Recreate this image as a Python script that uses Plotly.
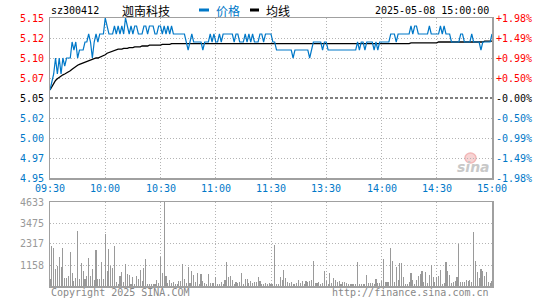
import plotly.graph_objects as go

# ---------------- data ----------------
prev_close = 5.05
price_ticks = [5.15, 5.125, 5.10, 5.075, 5.05, 5.025, 5.00, 4.975, 4.95]
price_labels = ["5.15", "5.12", "5.10", "5.07", "5.05", "5.02", "5.00", "4.97", "4.95"]
pct_labels = ["+1.98%", "+1.49%", "+0.99%", "+0.50%", "-0.00%", "-0.50%", "-0.99%", "-1.49%", "-1.98%"]
vol_ticks = [4633, 3475, 2317, 1158]
vol_labels = ["4633", "3475", "2317", "1158"]
time_pos = [0, 30, 60, 90, 120, 150, 180, 210, 240]
time_labels = ["09:30", "10:00", "10:30", "11:00", "11:30", "13:30", "14:00", "14:30", "15:00"]

price = [
    5.06, 5.07, 5.08, 5.10, 5.08, 5.10, 5.08, 5.10, 5.09, 5.10,
    5.10, 5.10, 5.12, 5.11, 5.12, 5.10, 5.11, 5.11, 5.11, 5.12,
    5.12, 5.13, 5.12, 5.10, 5.12, 5.13, 5.12, 5.13, 5.13, 5.13,
    5.15, 5.14, 5.13, 5.13, 5.13, 5.14, 5.13, 5.14, 5.13, 5.14,
    5.13, 5.15, 5.14, 5.13, 5.14, 5.13, 5.14, 5.14, 5.13, 5.13,
    5.13, 5.14, 5.14, 5.13, 5.14, 5.14, 5.14, 5.13, 5.13, 5.14,
    5.14, 5.13, 5.14, 5.13, 5.14, 5.13, 5.14, 5.13, 5.13, 5.13,
    5.13, 5.13, 5.13, 5.13, 5.12, 5.11, 5.12, 5.13, 5.12, 5.12,
    5.12, 5.12, 5.12, 5.11, 5.12, 5.12, 5.12, 5.13, 5.12, 5.13,
    5.12, 5.12, 5.13, 5.12, 5.13, 5.13, 5.13, 5.13, 5.13, 5.13,
    5.12, 5.13, 5.13, 5.12, 5.12, 5.12, 5.13, 5.12, 5.13, 5.12,
    5.13, 5.12, 5.12, 5.12, 5.13, 5.13, 5.12, 5.13, 5.13, 5.13,
    5.13, 5.12, 5.12, 5.11, 5.11, 5.11, 5.11, 5.11, 5.11, 5.11,
    5.11, 5.11, 5.10, 5.11, 5.11, 5.11, 5.11, 5.11, 5.11, 5.11,
    5.11, 5.10, 5.11, 5.12, 5.12, 5.12, 5.12, 5.12, 5.11, 5.12,
    5.12, 5.11, 5.11, 5.11, 5.11, 5.11, 5.11, 5.11, 5.11, 5.11,
    5.11, 5.11, 5.11, 5.11, 5.11, 5.11, 5.11, 5.12, 5.11, 5.12,
    5.12, 5.11, 5.12, 5.12, 5.12, 5.12, 5.11, 5.12, 5.11, 5.12,
    5.12, 5.12, 5.12, 5.12, 5.12, 5.13, 5.13, 5.13, 5.12, 5.13,
    5.13, 5.13, 5.13, 5.13, 5.13, 5.13, 5.14, 5.13, 5.14, 5.14,
    5.13, 5.13, 5.13, 5.13, 5.13, 5.13, 5.14, 5.13, 5.13, 5.13,
    5.13, 5.13, 5.14, 5.13, 5.14, 5.13, 5.13, 5.13, 5.12, 5.12,
    5.12, 5.12, 5.12, 5.13, 5.13, 5.12, 5.12, 5.12, 5.12, 5.13,
    5.12, 5.12, 5.12, 5.12, 5.11, 5.12, 5.12, 5.12, 5.12, 5.12,
    5.13,
]

avg = [
    5.060, 5.064, 5.068, 5.072, 5.074, 5.076, 5.077, 5.079, 5.080, 5.081,
    5.083, 5.084, 5.086, 5.088, 5.089, 5.091, 5.092, 5.093, 5.094, 5.095,
    5.096, 5.097, 5.097, 5.098, 5.099, 5.100, 5.100, 5.101, 5.102, 5.102,
    5.104, 5.106, 5.107, 5.108, 5.109, 5.110, 5.110, 5.111, 5.111, 5.111,
    5.112, 5.112, 5.112, 5.113, 5.113, 5.113, 5.114, 5.114, 5.114, 5.114,
    5.115, 5.115, 5.115, 5.115, 5.116, 5.116, 5.116, 5.116, 5.116, 5.116,
    5.116, 5.117, 5.117, 5.117, 5.117, 5.117, 5.118, 5.118, 5.118, 5.118,
    5.118, 5.118, 5.118, 5.118, 5.118, 5.118, 5.118, 5.118, 5.118, 5.118,
    5.118, 5.118, 5.118, 5.118, 5.118, 5.118, 5.118, 5.118, 5.118, 5.118,
    5.118, 5.118, 5.118, 5.118, 5.118, 5.118, 5.118, 5.118, 5.118, 5.118,
    5.118, 5.118, 5.118, 5.118, 5.118, 5.118, 5.118, 5.118, 5.118, 5.118,
    5.118, 5.118, 5.118, 5.118, 5.118, 5.118, 5.118, 5.118, 5.118, 5.118,
    5.118, 5.118, 5.118, 5.118, 5.118, 5.118, 5.118, 5.118, 5.118, 5.118,
    5.118, 5.118, 5.118, 5.118, 5.118, 5.118, 5.118, 5.118, 5.118, 5.118,
    5.118, 5.118, 5.118, 5.118, 5.118, 5.118, 5.118, 5.118, 5.118, 5.118,
    5.118, 5.118, 5.118, 5.118, 5.118, 5.118, 5.118, 5.118, 5.118, 5.118,
    5.118, 5.118, 5.118, 5.118, 5.118, 5.118, 5.118, 5.118, 5.118, 5.118,
    5.118, 5.118, 5.118, 5.118, 5.118, 5.118, 5.118, 5.118, 5.118, 5.118,
    5.118, 5.118, 5.118, 5.118, 5.118, 5.118, 5.118, 5.118, 5.118, 5.118,
    5.118, 5.118, 5.118, 5.118, 5.118, 5.118, 5.119, 5.119, 5.119, 5.119,
    5.119, 5.119, 5.119, 5.119, 5.119, 5.119, 5.119, 5.119, 5.119, 5.119,
    5.119, 5.120, 5.120, 5.120, 5.120, 5.120, 5.120, 5.120, 5.120, 5.120,
    5.120, 5.120, 5.120, 5.120, 5.120, 5.120, 5.120, 5.120, 5.120, 5.120,
    5.120, 5.120, 5.120, 5.120, 5.120, 5.120, 5.121, 5.121, 5.121, 5.121,
    5.121,
]

volume = [
    370, 2190, 2080, 920, 1085, 1580, 1030, 2080, 420, 420,
    530, 1860, 700, 257, 420, 3015, 370, 1250, 810, 370,
    530, 1525, 530, 920, 310, 1970, 370, 370, 1305, 370,
    2885, 810, 2020, 1085, 975, 2190, 200, 90, 530, 755,
    200, 1195, 645, 590, 90, 480, 130, 530, 370, 865,
    257, 975, 1470, 90, 90, 90, 90, 90, 310, 150,
    1580, 700, 4633, 530, 150, 310, 150, 200, 90, 90,
    257, 257, 1195, 370, 150, 1030, 150, 810, 590, 200,
    700, 90, 645, 257, 150, 90, 645, 150, 150, 150,
    480, 90, 90, 200, 90, 310, 1305, 480, 530, 310,
    90, 200, 150, 200, 700, 90, 370, 370, 150, 257,
    150, 200, 200, 480, 257, 90, 90, 150, 90, 150,
    90, 90, 2243, 90, 90, 480, 310, 865, 420, 200,
    150, 200, 90, 90, 150, 310, 150, 257, 90, 257,
    200, 257, 310, 1360, 150, 150, 200, 90, 150, 810,
    257, 90, 700, 150, 420, 310, 200, 257, 90, 200,
    200, 150, 90, 90, 90, 90, 90, 1305, 90, 90,
    90, 90, 590, 150, 150, 150, 90, 370, 150, 150,
    257, 1470, 200, 200, 200, 2077, 1360, 200, 1030, 310,
    1250, 1250, 480, 90, 90, 200, 700, 310, 90, 310,
    530, 645, 810, 200, 755, 150, 590, 1140, 480, 200,
    480, 530, 865, 90, 150, 1305, 810, 590, 150, 200,
    257, 480, 2300, 200, 200, 200, 310, 257, 310, 200,
    2978, 1360, 750, 440, 920, 830, 550, 750, 200, 150,
    300,
]

minutes = list(range(len(price)))

# ---------------- styling ----------------
WIN_W, WIN_H = 545, 300
L, R, T, B = 50, 492, 18, 286  # plot area in window pixels
RED = "#ff0000"
BLUE = "#0078c8"
GRAY = "#999999"
GRID = "#b4b4b4"
MONO = "DejaVu Sans Mono"
FS = 10


def px(x):
    return (x - L) / (R - L)


def py(y):
    return (B - y) / (B - T)


fig = go.Figure()
fig.add_trace(go.Bar(x=minutes, y=volume, xaxis="x2", yaxis="y2",
                     marker=dict(color="#9a9a9a", line=dict(width=0)),
                     width=0.6, hoverinfo="skip"))
fig.add_trace(go.Scatter(x=minutes, y=avg, mode="lines", xaxis="x", yaxis="y",
                         line=dict(color="#000000", width=1.3), hoverinfo="skip"))
fig.add_trace(go.Scatter(x=minutes, y=price, mode="lines", xaxis="x", yaxis="y",
                         line=dict(color=BLUE, width=1.2), hoverinfo="skip"))

axis_common = dict(showline=True, mirror=True, linecolor="#a0a0a0", linewidth=1.5,
                   ticks="", showticklabels=False, zeroline=False,
                   showgrid=True, gridcolor=GRID, gridwidth=1, griddash="1px,2px",
                   fixedrange=True)

fig.update_layout(
    width=WIN_W, height=WIN_H,
    margin=dict(l=L, r=WIN_W - R, t=T, b=WIN_H - B, pad=0),
    paper_bgcolor="white", plot_bgcolor="white",
    showlegend=False, bargap=0, hovermode=False,
    font=dict(family=MONO, size=FS, color="#000"),
    xaxis=dict(domain=[0, 1], range=[0, 240], anchor="y",
               tickvals=time_pos[1:-1], **axis_common),
    yaxis=dict(domain=[py(178), 1], range=[4.95, 5.15], anchor="x",
               tickvals=[t for t in price_ticks if t not in (5.15, 4.95, 5.05)], **axis_common),
    xaxis2=dict(domain=[0, 1], range=[0, 240], anchor="y2",
                tickvals=time_pos[1:-1], **axis_common),
    yaxis2=dict(domain=[0, py(202)], range=[0, 4633], anchor="x2",
                tickvals=vol_ticks[1:], **axis_common),
)

fig.add_shape(type="line", xref="x", yref="y", x0=0, x1=240, y0=prev_close, y1=prev_close,
              line=dict(color="#000", width=1.2, dash="3px,2px"))

ann = []
for v, lab, pl in zip(price_ticks, price_labels, pct_labels):
    if v > prev_close:
        c = RED
    elif v < prev_close:
        c = BLUE
    else:
        c = "#000"
    ann.append(dict(xref="paper", yref="y", x=0, y=v, text=lab, xanchor="right",
                    yanchor="middle", xshift=-4, showarrow=False,
                    font=dict(family=MONO, size=FS, color=c)))
    ann.append(dict(xref="paper", yref="y", x=1, y=v, text=pl, xanchor="left",
                    yanchor="middle", xshift=2, showarrow=False,
                    font=dict(family=MONO, size=FS, color=c)))

for m, lab in zip(time_pos, time_labels):
    ann.append(dict(xref="x", yref="paper", x=m, y=py(188.5), text=lab, xanchor="center",
                    yanchor="middle", showarrow=False,
                    font=dict(family=MONO, size=FS, color=BLUE)))

for v, lab in zip(vol_ticks, vol_labels):
    ann.append(dict(xref="paper", yref="y2", x=0, y=v, text=lab, xanchor="right",
                    yanchor="middle", xshift=-4, showarrow=False,
                    font=dict(family=MONO, size=FS, color=GRAY)))

# header
ann.append(dict(xref="paper", yref="paper", x=px(49), y=py(11), text="sz300412",
                xanchor="left", yanchor="middle", showarrow=False,
                font=dict(family=MONO, size=FS, color="#000")))
ann.append(dict(xref="paper", yref="paper", x=px(120), y=py(11), text="迦南科技",
                xanchor="left", yanchor="middle", showarrow=False,
                font=dict(family="Noto Sans CJK SC", size=12, color="#000")))
ann.append(dict(xref="paper", yref="paper", x=px(214), y=py(11), text="价格",
                xanchor="left", yanchor="middle", showarrow=False,
                font=dict(family="Noto Sans CJK SC", size=12, color=BLUE)))
ann.append(dict(xref="paper", yref="paper", x=px(264), y=py(11), text="均线",
                xanchor="left", yanchor="middle", showarrow=False,
                font=dict(family="Noto Sans CJK SC", size=12, color="#000")))
ann.append(dict(xref="paper", yref="paper", x=px(491), y=py(11), text="2025-05-08 15:00:00",
                xanchor="right", yanchor="middle", showarrow=False,
                font=dict(family=MONO, size=FS, color="#000")))
fig.add_shape(type="line", xref="paper", yref="paper", x0=px(199), x1=px(209),
              y0=py(10), y1=py(10), line=dict(color=BLUE, width=3))
fig.add_shape(type="line", xref="paper", yref="paper", x0=px(250), x1=px(259),
              y0=py(10), y1=py(10), line=dict(color="#000", width=3))

# footer
ann.append(dict(xref="paper", yref="paper", x=px(49), y=py(292.5), text="Copyright 2025 SINA.COM",
                xanchor="left", yanchor="middle", showarrow=False,
                font=dict(family=MONO, size=FS, color="#888")))
ann.append(dict(xref="paper", yref="paper", x=px(491), y=py(292.5), text="http://finance.sina.com.cn",
                xanchor="right", yanchor="middle", showarrow=False,
                font=dict(family=MONO, size=FS, color="#888")))

# watermark
fig.add_shape(type="circle", xref="paper", yref="paper", x0=px(465), x1=px(476),
              y0=py(163), y1=py(153), line=dict(color="#f2b8b8", width=1.5),
              fillcolor="rgba(240,170,170,0.5)", layer="below")
ann.append(dict(xref="paper", yref="paper", x=px(473), y=py(167), text="<b><i>sina</i></b>",
                xanchor="center", yanchor="middle", showarrow=False,
                font=dict(family="DejaVu Sans", size=14, color="#c8c8c8")))

fig.update_layout(annotations=ann)
fig.write_html("out.html",
               config={"displayModeBar": False, "staticPlot": True},
               post_script="document.body.style.margin='0px';document.body.style.overflow='hidden';")
